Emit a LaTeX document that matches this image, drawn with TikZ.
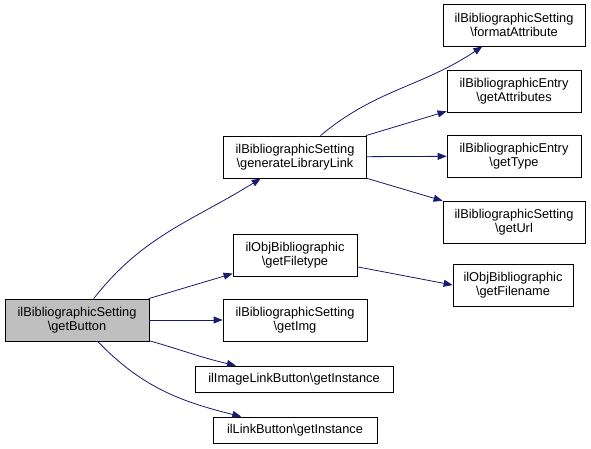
\documentclass[tikz,border=0pt]{standalone}
\usepackage{fontspec}
\setmainfont{Liberation Sans}
\usetikzlibrary{arrows.meta}
\definecolor{edgeblue}{HTML}{191970}
\definecolor{fngray}{HTML}{BFBFBF}
\begin{document}
\begin{tikzpicture}[x=1pt,y=1pt,>={Triangle[length=9pt,width=7pt]},
        fn/.style={draw=black,line width=0.8pt,align=center,inner sep=0pt,minimum height=42pt,font=\fontsize{12.8}{14}\selectfont},
        fnone/.style={fn,minimum height=26pt},
        call/.style={->,draw=edgeblue,fill=none,line width=0.8pt}]
        \useasboundingbox (0,0) rectangle (591,-449);
        \node[fn,fill=fngray,minimum width=144pt] (btn) at (77,-320) {ilBibliographicSetting\\\textbackslash getButton};
        \node[fn,minimum width=143pt] (genlink) at (295,-157) {ilBibliographicSetting\\\textbackslash generateLibraryLink};
        \node[fn,minimum width=124pt] (getfiletype) at (295,-255) {ilObjBibliographic\\\textbackslash getFiletype};
        \node[fn,minimum width=144pt] (getimg) at (295,-320) {ilBibliographicSetting\\\textbackslash getImg};
        \node[fnone,minimum width=198pt] (imglink) at (294,-379) {ilImageLinkButton\textbackslash getInstance};
        \node[fnone,minimum width=164pt] (linkbtn) at (295,-430) {ilLinkButton\textbackslash getInstance};
        \node[fn,minimum width=142pt] (fmtattr) at (514,-25) {ilBibliographicSetting\\\textbackslash formatAttribute};
        \node[fn,minimum width=134pt] (getattr) at (514,-91) {ilBibliographicEntry\\\textbackslash getAttributes};
        \node[fn,minimum width=134pt] (gettype) at (514,-156) {ilBibliographicEntry\\\textbackslash getType};
        \node[fn,minimum width=142pt] (geturl) at (514,-222) {ilBibliographicSetting\\\textbackslash getUrl};
        \node[fn,minimum width=120pt] (getfilename) at (513,-285) {ilObjBibliographic\\\textbackslash getFilename};
        % calls from getButton
        \draw[call] (btn) to[out=52,in=212] (genlink);
        \draw[call] (btn) -- (getfiletype);
        \draw[call] (btn) -- (getimg);
        \draw[call] (btn) to[out=-16,in=167] (imglink);
        \draw[call] (btn) to[out=-46,in=166] (linkbtn);
        % calls from generateLibraryLink
        \draw[call] (genlink) to[out=40,in=214] (fmtattr);
        \draw[call] (genlink) -- (getattr);
        \draw[call] (genlink) -- (gettype);
        \draw[call] (genlink) -- (geturl);
        \draw[call] (getfiletype) -- (getfilename.west);
    \end{tikzpicture}
\end{document}
